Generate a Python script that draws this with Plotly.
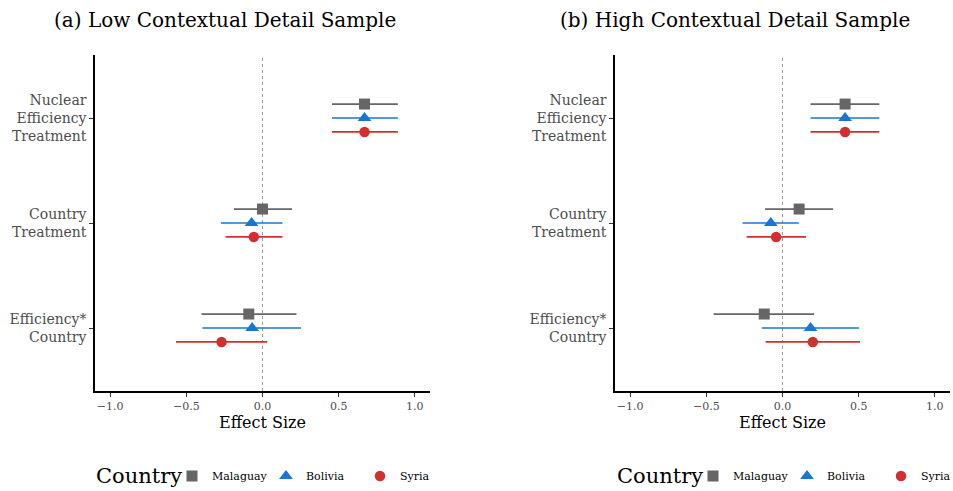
import plotly.graph_objects as go

categories = ["Efficiency*<br>Country", "Country<br>Treatment", "Nuclear<br>Efficiency<br>Treatment"]
countries = ["Malaguay", "Bolivia", "Syria"]
colors = {"Malaguay": "#666666", "Bolivia": "#1976D2", "Syria": "#D32F2F"}
symbols = {"Malaguay": "square", "Bolivia": "triangle-up", "Syria": "circle"}
sizes = {"Malaguay": 11, "Bolivia": 12, "Syria": 10.5}

# Panel (a) Low contextual detail: order of categories as above (bottom to top)
low_est = {
    "Malaguay": [-0.090, 0.000, 0.670],
    "Bolivia": [-0.068, -0.072, 0.670],
    "Syria": [-0.269, -0.057, 0.670],
}
low_lo = {
    "Malaguay": [-0.400, -0.188, 0.456],
    "Bolivia": [-0.395, -0.273, 0.456],
    "Syria": [-0.568, -0.242, 0.456],
}
low_hi = {
    "Malaguay": [0.223, 0.194, 0.889],
    "Bolivia": [0.253, 0.131, 0.889],
    "Syria": [0.031, 0.131, 0.889],
}

# Panel (b) High contextual detail
high_est = {
    "Malaguay": [-0.120, 0.109, 0.411],
    "Bolivia": [0.184, -0.077, 0.411],
    "Syria": [0.199, -0.042, 0.411],
}
high_lo = {
    "Malaguay": [-0.452, -0.114, 0.184],
    "Bolivia": [-0.136, -0.262, 0.184],
    "Syria": [-0.111, -0.236, 0.184],
}
high_hi = {
    "Malaguay": [0.208, 0.332, 0.636],
    "Bolivia": [0.503, 0.107, 0.636],
    "Syria": [0.509, 0.155, 0.636],
}

x_ticks = [-1.0, -0.5, 0.0, 0.5, 1.0]
x_ticktext = ["\u22121.0", "\u22120.5", "0.0", "0.5", "1.0"]
titles = ["(a) Low Contextual Detail Sample", "(b) High Contextual Detail Sample"]
legend_title = "Country"

FONT = "DejaVu Serif"
W, H = 953, 491
ML, MR, MT, MB = 95, 3, 55, 100
PW = W - ML - MR
PH = H - MT - MB
dodge = {"Malaguay": 0.133, "Bolivia": 0.0, "Syria": -0.133}


def px_to_paper_x(px):
    return (px - ML) / PW


def py_to_paper_y(py):
    return (H - MB - py) / PH


fig = go.Figure()
panels = [(low_est, low_lo, low_hi), (high_est, high_lo, high_hi)]
for p, (est, lo, hi) in enumerate(panels):
    xa = "x" if p == 0 else "x2"
    ya = "y" if p == 0 else "y2"
    for c in countries:
        ys = [i + 1 + dodge[c] for i in range(len(categories))]
        fig.add_trace(go.Scatter(
            x=est[c], y=ys, mode="markers", name=c,
            xaxis=xa, yaxis=ya,
            marker=dict(symbol=symbols[c], size=sizes[c], color=colors[c]),
            error_x=dict(type="data", symmetric=False,
                         array=[h - e for h, e in zip(hi[c], est[c])],
                         arrayminus=[e - l for e, l in zip(est[c], lo[c])],
                         color=colors[c], thickness=1.7, width=0),
            legend="legend" if p == 0 else "legend2",
            showlegend=True,
        ))

axis_common = dict(
    range=[-1.1, 1.1], tickvals=x_ticks, ticktext=x_ticktext,
    showline=True, linecolor="black", linewidth=1.5, ticks="outside",
    ticklen=4, tickcolor="#333333", tickwidth=1, showgrid=False, zeroline=False,
    tickfont=dict(family=FONT, size=11, color="#4D4D4D"),
    title=dict(text="Effect Size", font=dict(family=FONT, size=16, color="black"), standoff=4),
    automargin=False,
)
yaxis_common = dict(
    range=[0.4, 3.6], tickvals=[1, 2, 3], ticktext=categories,
    showline=True, linecolor="black", linewidth=1.5, ticks="outside",
    ticklen=4, tickcolor="#333333", tickwidth=1, showgrid=False, zeroline=False,
    tickfont=dict(family=FONT, size=14, color="#4D4D4D"),
    automargin=False,
)

legend_common = dict(
    orientation="h", yanchor="middle", xanchor="left",
    xref="container", yref="container",
    font=dict(family=FONT, size=11, color="black"),
    bgcolor="rgba(0,0,0,0)", entrywidth=49, entrywidthmode="pixels",
)

fig.update_layout(
    width=W, height=H,
    margin=dict(l=ML, r=MR, t=MT, b=MB, autoexpand=False),
    plot_bgcolor="white", paper_bgcolor="white",
    font=dict(family=FONT),
    xaxis=dict(domain=[px_to_paper_x(95), px_to_paper_x(430)], anchor="y", **axis_common),
    yaxis=dict(anchor="x", **yaxis_common),
    xaxis2=dict(domain=[px_to_paper_x(615), px_to_paper_x(950)], anchor="y2", **axis_common),
    yaxis2=dict(anchor="x2", **yaxis_common),
    legend=dict(x=172 / W, y=1 - 476 / H, **legend_common),
    legend2=dict(x=693 / W, y=1 - 476 / H, **legend_common),
    shapes=[
        dict(type="line", xref="x", yref="paper", x0=0, x1=0, y0=0, y1=1,
             line=dict(color="#999999", width=1, dash="3px,3px"), layer="below"),
        dict(type="line", xref="x2", yref="paper", x0=0, x1=0, y0=0, y1=1,
             line=dict(color="#999999", width=1, dash="3px,3px"), layer="below"),
    ],
    annotations=[
        dict(text=titles[0], x=px_to_paper_x(225), y=py_to_paper_y(20), xref="paper", yref="paper",
             xanchor="center", yanchor="middle", showarrow=False,
             font=dict(family=FONT, size=20, color="black")),
        dict(text=titles[1], x=px_to_paper_x(735), y=py_to_paper_y(20), xref="paper", yref="paper",
             xanchor="center", yanchor="middle", showarrow=False,
             font=dict(family=FONT, size=20, color="black")),
        dict(text=legend_title, x=px_to_paper_x(94), y=py_to_paper_y(476), xref="paper", yref="paper",
             xanchor="left", yanchor="middle", showarrow=False,
             font=dict(family=FONT, size=21, color="black")),
        dict(text=legend_title, x=px_to_paper_x(615), y=py_to_paper_y(476), xref="paper", yref="paper",
             xanchor="left", yanchor="middle", showarrow=False,
             font=dict(family=FONT, size=21, color="black")),
    ],
)

fig.write_html("out.html", post_script="document.body.style.margin='0';",
               config={"displayModeBar": False})
